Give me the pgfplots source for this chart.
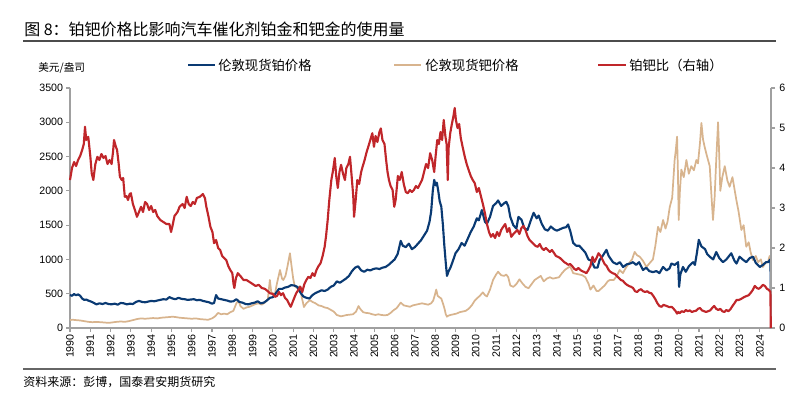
\documentclass[border=0pt]{standalone}
\usepackage{pgfplots}
\usepackage{pgfplotstable}
\pgfplotsset{compat=1.18}
\usepackage{fontspec}
\setmainfont{Liberation Sans}
\newfontfamily\cjk{Noto Sans CJK SC}
\definecolor{ptblue}{RGB}{10,58,115}
\definecolor{pdtan}{RGB}{216,180,142}
\definecolor{ratred}{RGB}{192,38,42}
\definecolor{axgray}{RGB}{160,160,160}

\pgfplotstableread{
x y
1990.00 481
1990.10 470
1990.20 495
1990.30 478
1990.40 490
1990.50 470
1990.60 430
1990.70 410
1990.80 415
1990.90 400
1991.00 390
1991.15 370
1991.30 345
1991.45 360
1991.60 350
1991.75 365
1991.90 350
1992.05 345
1992.20 355
1992.35 340
1992.50 365
1992.65 360
1992.80 345
1992.95 355
1993.10 350
1993.25 380
1993.40 395
1993.55 380
1993.70 375
1993.85 385
1994.00 395
1994.15 390
1994.30 400
1994.45 410
1994.60 420
1994.75 415
1994.90 450
1995.05 430
1995.20 420
1995.35 440
1995.50 425
1995.65 420
1995.80 410
1995.95 415
1996.10 420
1996.25 405
1996.40 410
1996.55 395
1996.70 385
1996.85 375
1997.00 355
1997.10 365
1997.20 480
1997.30 430
1997.45 420
1997.60 410
1997.75 400
1997.90 385
1998.05 390
1998.20 420
1998.35 380
1998.50 370
1998.65 350
1998.80 345
1998.95 360
1999.10 370
1999.25 390
1999.40 360
1999.55 370
1999.70 400
1999.85 440
2000.00 450
2000.15 510
2000.30 570
2000.45 570
2000.60 590
2000.75 600
2000.90 625
2001.05 620
2001.20 600
2001.35 520
2001.50 460
2001.65 440
2001.80 430
2001.95 480
2002.10 510
2002.25 530
2002.40 550
2002.55 540
2002.70 560
2002.85 600
2003.00 620
2003.15 680
2003.30 660
2003.45 690
2003.60 720
2003.75 760
2003.90 830
2004.05 880
2004.20 900
2004.35 840
2004.50 820
2004.65 850
2004.80 840
2004.95 860
2005.10 870
2005.25 860
2005.40 880
2005.55 890
2005.70 920
2005.85 960
2006.00 1000
2006.15 1080
2006.30 1270
2006.40 1200
2006.55 1180
2006.70 1230
2006.85 1150
2007.00 1180
2007.15 1230
2007.30 1280
2007.45 1350
2007.60 1420
2007.72 1550
2007.80 1700
2007.88 2000
2007.95 2160
2008.02 2080
2008.08 2120
2008.15 2000
2008.22 1850
2008.30 1770
2008.38 1500
2008.45 1200
2008.52 950
2008.58 760
2008.65 820
2008.75 880
2008.85 960
2009.00 1090
2009.15 1150
2009.30 1240
2009.45 1200
2009.60 1300
2009.75 1400
2009.90 1480
2010.05 1600
2010.15 1570
2010.30 1720
2010.45 1550
2010.55 1520
2010.70 1620
2010.85 1780
2011.00 1820
2011.10 1860
2011.25 1780
2011.40 1820
2011.50 1840
2011.60 1780
2011.70 1620
2011.85 1500
2012.00 1450
2012.10 1620
2012.25 1580
2012.40 1450
2012.55 1430
2012.70 1560
2012.85 1680
2013.00 1600
2013.10 1640
2013.25 1520
2013.40 1440
2013.55 1420
2013.70 1480
2013.85 1440
2014.00 1420
2014.15 1440
2014.30 1460
2014.45 1470
2014.55 1510
2014.65 1420
2014.80 1240
2014.95 1200
2015.10 1200
2015.25 1150
2015.40 1100
2015.55 1000
2015.70 980
2015.85 880
2016.00 880
2016.10 990
2016.25 1050
2016.44 1140
2016.55 1050
2016.76 960
2016.95 930
2017.10 960
2017.26 890
2017.45 930
2017.60 940
2017.75 960
2017.90 920
2018.05 960
2018.24 846
2018.40 880
2018.55 830
2018.73 815
2018.90 830
2019.05 800
2019.23 890
2019.40 840
2019.55 870
2019.64 940
2019.80 920
2019.97 960
2020.02 600
2020.08 780
2020.21 890
2020.35 820
2020.50 900
2020.71 960
2020.80 920
2020.90 1100
2020.99 1285
2021.12 1190
2021.30 1150
2021.40 1080
2021.53 1040
2021.70 1000
2021.85 1108
2022.00 1020
2022.18 960
2022.35 1000
2022.59 1090
2022.75 980
2022.85 940
2023.00 1040
2023.15 1000
2023.33 960
2023.50 1020
2023.66 1040
2023.80 950
2024.00 890
2024.15 920
2024.30 960
2024.40 960
2024.52 1000
2024.54 560
}\ptdata

\pgfplotstableread{
x y
1990.00 117
1990.15 120
1990.30 115
1990.50 110
1990.70 100
1990.90 90
1991.10 85
1991.30 88
1991.50 85
1991.70 80
1991.90 75
1992.10 82
1992.30 90
1992.50 95
1992.70 90
1992.90 100
1993.10 115
1993.30 130
1993.50 140
1993.70 135
1993.90 140
1994.10 145
1994.30 140
1994.50 150
1994.70 155
1994.90 160
1995.05 165
1995.20 160
1995.40 150
1995.60 145
1995.80 140
1996.00 135
1996.20 140
1996.40 130
1996.60 125
1996.80 120
1997.00 140
1997.15 170
1997.30 220
1997.45 200
1997.60 210
1997.75 200
1997.90 230
1998.05 250
1998.20 360
1998.30 400
1998.40 320
1998.55 280
1998.70 300
1998.85 310
1999.00 330
1999.15 350
1999.30 360
1999.45 340
1999.60 370
1999.75 420
1999.85 700
1999.92 520
2000.05 500
2000.10 496
2000.20 650
2000.35 846
2000.45 720
2000.51 700
2000.62 760
2000.72 900
2000.84 1090
2000.92 900
2001.00 720
2001.08 610
2001.20 580
2001.33 610
2001.42 450
2001.53 306
2001.65 360
2001.82 408
2001.95 380
2002.10 360
2002.25 330
2002.40 320
2002.55 300
2002.70 290
2002.85 265
2003.00 240
2003.15 190
2003.35 170
2003.50 180
2003.65 190
2003.80 195
2003.95 200
2004.10 240
2004.22 320
2004.30 280
2004.45 230
2004.60 220
2004.75 215
2004.90 200
2005.05 190
2005.20 200
2005.35 190
2005.50 185
2005.65 190
2005.80 220
2005.95 260
2006.10 290
2006.30 370
2006.45 330
2006.60 320
2006.75 310
2006.90 330
2007.05 340
2007.20 350
2007.35 360
2007.50 350
2007.65 340
2007.80 360
2007.90 400
2007.98 480
2008.05 560
2008.12 470
2008.20 450
2008.30 430
2008.38 360
2008.46 280
2008.52 200
2008.58 165
2008.65 180
2008.75 190
2008.90 200
2009.05 210
2009.20 230
2009.35 240
2009.50 250
2009.65 280
2009.80 330
2009.95 400
2010.05 430
2010.20 470
2010.35 520
2010.45 480
2010.55 460
2010.70 560
2010.85 700
2011.00 780
2011.10 820
2011.25 770
2011.40 760
2011.50 780
2011.60 740
2011.70 620
2011.85 600
2012.00 640
2012.15 710
2012.30 650
2012.45 600
2012.60 580
2012.75 640
2012.90 700
2013.05 730
2013.20 760
2013.35 680
2013.50 720
2013.65 740
2013.80 720
2013.95 730
2014.10 740
2014.25 800
2014.40 850
2014.55 880
2014.65 900
2014.80 800
2014.95 790
2015.10 780
2015.25 770
2015.40 740
2015.55 650
2015.65 560
2015.80 620
2015.95 540
2016.05 540
2016.20 580
2016.35 620
2016.50 680
2016.60 700
2016.80 700
2016.95 760
2017.09 846
2017.25 800
2017.40 880
2017.59 960
2017.70 1000
2017.83 1110
2017.95 1060
2018.08 1040
2018.24 980
2018.41 890
2018.55 940
2018.73 1000
2018.85 1200
2018.98 1475
2019.10 1400
2019.23 1575
2019.35 1450
2019.45 1550
2019.56 1765
2019.68 1900
2019.80 2450
2019.86 2600
2019.92 2790
2019.96 2300
2020.00 1575
2020.06 2000
2020.13 2310
2020.25 2200
2020.38 2450
2020.50 2250
2020.62 2360
2020.75 2300
2020.87 2450
2020.95 2400
2021.05 2700
2021.12 2990
2021.20 2750
2021.28 2640
2021.40 2500
2021.53 2360
2021.60 2000
2021.69 1575
2021.77 1900
2021.85 2450
2021.94 3000
2022.00 2500
2022.05 2000
2022.15 2200
2022.27 2360
2022.40 2150
2022.51 2060
2022.65 2200
2022.84 1870
2022.95 1700
2023.09 1430
2023.20 1500
2023.33 1185
2023.45 1250
2023.55 1100
2023.66 990
2023.80 1050
2023.91 960
2024.05 1000
2024.15 890
2024.28 950
2024.40 960
2024.48 1050
2024.54 990
}\pddata

\pgfplotstableread{
x y
1990.00 3.70
1990.10 4.00
1990.20 4.15
1990.30 4.05
1990.40 4.20
1990.50 4.30
1990.60 4.45
1990.68 4.60
1990.74 5.03
1990.80 4.70
1990.90 4.78
1991.00 4.30
1991.07 3.87
1991.15 3.70
1991.25 4.10
1991.35 4.28
1991.45 4.20
1991.55 4.35
1991.65 4.25
1991.75 4.30
1991.85 4.10
1991.95 4.20
1992.05 4.10
1992.12 4.40
1992.17 4.70
1992.25 4.55
1992.32 4.45
1992.40 4.10
1992.46 3.78
1992.55 3.70
1992.62 3.75
1992.70 3.28
1992.78 3.30
1992.86 3.20
1992.94 3.35
1993.00 3.37
1993.10 3.10
1993.20 2.95
1993.30 2.78
1993.40 2.90
1993.50 3.03
1993.60 2.90
1993.70 3.15
1993.80 3.10
1993.90 2.95
1994.00 3.05
1994.10 2.90
1994.20 2.95
1994.30 2.80
1994.45 2.70
1994.60 2.65
1994.75 2.60
1994.90 2.60
1994.98 2.40
1995.05 2.55
1995.15 2.80
1995.30 2.90
1995.40 3.03
1995.55 3.10
1995.65 3.00
1995.75 3.28
1995.85 3.10
1995.95 3.05
1996.05 3.15
1996.15 3.10
1996.25 3.25
1996.40 3.28
1996.55 3.35
1996.65 3.25
1996.72 3.03
1996.82 2.80
1996.92 2.53
1997.02 2.40
1997.10 2.12
1997.20 2.20
1997.30 2.00
1997.40 1.95
1997.50 1.80
1997.60 1.75
1997.70 1.70
1997.80 1.55
1997.90 1.45
1998.00 1.37
1998.06 1.10
1998.10 1.00
1998.18 1.25
1998.27 1.37
1998.40 1.30
1998.55 1.20
1998.70 1.20
1998.85 1.15
1999.00 1.10
1999.15 1.05
1999.30 1.08
1999.45 1.00
1999.60 0.98
1999.75 0.92
1999.85 0.87
2000.00 0.85
2000.10 0.78
2000.20 0.80
2000.30 0.90
2000.40 0.82
2000.50 0.87
2000.60 0.75
2000.70 0.70
2000.80 0.60
2000.88 0.53
2000.95 0.62
2001.05 0.75
2001.15 0.87
2001.25 0.95
2001.35 1.03
2001.45 0.90
2001.55 1.10
2001.65 1.20
2001.75 1.28
2001.85 1.25
2001.95 1.37
2002.05 1.30
2002.15 1.45
2002.25 1.55
2002.35 1.62
2002.45 1.80
2002.55 2.03
2002.62 2.30
2002.70 2.70
2002.78 3.20
2002.88 3.70
2002.95 3.90
2003.05 4.25
2003.12 3.80
2003.20 3.50
2003.28 3.90
2003.36 4.08
2003.46 3.85
2003.55 3.70
2003.62 4.00
2003.72 4.10
2003.80 4.28
2003.88 3.80
2003.96 3.30
2004.00 2.78
2004.08 3.20
2004.16 3.70
2004.25 3.60
2004.35 3.90
2004.42 4.03
2004.52 4.20
2004.62 4.40
2004.70 4.53
2004.80 4.70
2004.90 4.87
2004.98 4.53
2005.06 4.80
2005.15 4.65
2005.25 4.90
2005.32 4.99
2005.40 4.70
2005.50 4.60
2005.58 4.20
2005.65 3.90
2005.72 3.70
2005.80 3.55
2005.90 3.45
2005.98 3.03
2006.05 3.20
2006.16 3.80
2006.25 3.70
2006.35 3.90
2006.45 3.60
2006.55 3.40
2006.65 3.37
2006.75 3.45
2006.85 3.40
2006.95 3.45
2007.05 3.55
2007.15 3.50
2007.25 3.60
2007.35 3.70
2007.45 3.90
2007.55 4.10
2007.65 4.00
2007.75 4.37
2007.85 4.20
2007.95 3.90
2008.02 4.30
2008.10 4.70
2008.18 4.60
2008.26 4.90
2008.34 4.70
2008.42 5.20
2008.50 4.80
2008.56 4.60
2008.62 3.70
2008.66 4.50
2008.74 4.87
2008.82 5.10
2008.90 5.30
2008.96 5.50
2009.02 5.20
2009.10 5.00
2009.18 5.10
2009.26 4.75
2009.35 4.53
2009.45 4.30
2009.55 4.10
2009.65 3.95
2009.75 3.80
2009.85 3.70
2009.95 3.62
2010.05 3.40
2010.15 3.50
2010.25 3.30
2010.35 3.10
2010.45 2.87
2010.55 2.60
2010.65 2.40
2010.75 2.28
2010.85 2.35
2010.95 2.25
2011.05 2.40
2011.15 2.30
2011.25 2.45
2011.35 2.53
2011.45 2.60
2011.55 2.40
2011.65 2.50
2011.75 2.28
2011.85 2.35
2011.95 2.40
2012.05 2.45
2012.15 2.35
2012.25 2.50
2012.35 2.55
2012.45 2.45
2012.55 2.30
2012.65 2.20
2012.75 2.15
2012.85 2.10
2012.95 2.05
2013.05 2.03
2013.15 2.10
2013.25 2.00
2013.35 1.95
2013.45 2.00
2013.55 1.95
2013.65 1.90
2013.75 1.95
2013.85 1.88
2013.95 1.80
2014.05 1.78
2014.15 1.75
2014.25 1.70
2014.35 1.65
2014.45 1.62
2014.55 1.58
2014.65 1.60
2014.75 1.55
2014.85 1.48
2014.95 1.45
2015.05 1.50
2015.15 1.45
2015.25 1.42
2015.35 1.40
2015.45 1.37
2015.55 1.45
2015.65 1.55
2015.75 1.78
2015.85 1.65
2015.95 1.75
2016.05 1.87
2016.15 1.80
2016.25 1.70
2016.35 1.60
2016.45 1.55
2016.55 1.45
2016.65 1.40
2016.75 1.37
2016.85 1.35
2016.95 1.30
2017.05 1.25
2017.15 1.20
2017.25 1.18
2017.35 1.12
2017.45 1.08
2017.55 1.05
2017.65 1.03
2017.75 1.00
2017.85 0.92
2017.95 0.90
2018.05 0.95
2018.15 0.97
2018.25 0.92
2018.35 0.90
2018.45 0.92
2018.55 0.88
2018.65 0.87
2018.75 0.80
2018.85 0.72
2018.95 0.62
2019.05 0.55
2019.15 0.53
2019.25 0.58
2019.35 0.56
2019.45 0.54
2019.55 0.52
2019.65 0.53
2019.75 0.48
2019.85 0.42
2019.92 0.36
2019.98 0.40
2020.05 0.37
2020.15 0.42
2020.25 0.40
2020.35 0.45
2020.45 0.42
2020.55 0.44
2020.65 0.40
2020.75 0.42
2020.85 0.43
2020.95 0.48
2021.05 0.50
2021.15 0.44
2021.25 0.42
2021.35 0.40
2021.45 0.42
2021.55 0.44
2021.65 0.50
2021.75 0.55
2021.85 0.48
2021.95 0.45
2022.05 0.48
2022.15 0.42
2022.25 0.40
2022.35 0.45
2022.45 0.42
2022.55 0.47
2022.65 0.55
2022.75 0.62
2022.85 0.70
2022.95 0.70
2023.05 0.72
2023.15 0.75
2023.25 0.78
2023.35 0.80
2023.45 0.82
2023.55 0.88
2023.65 0.95
2023.75 1.05
2023.85 1.00
2023.95 0.98
2024.05 1.02
2024.15 1.08
2024.25 1.05
2024.35 0.98
2024.45 0.95
2024.52 0.90
2024.54 0.00
}\ratiodata

\begin{document}
\begin{tikzpicture}
\begin{scope}[x=0.75pt,y=0.75pt]
\useasboundingbox (0,0) rectangle (791,393);
% title
\node[anchor=west,inner sep=0pt] at (24,364) {\cjk\fontsize{12}{14}\selectfont 图 8：铂钯价格比影响汽车催化剂铂金和钯金的使用量};
\draw[line width=1.2pt,color=black!70] (23,352) -- (776,352);
\draw[line width=0.8pt,color=black!60] (23,24) -- (776,24);
\node[anchor=west,inner sep=0pt] at (23,11) {\cjk\fontsize{9}{11}\selectfont 资料来源：彭博，国泰君安期货研究};
\node[anchor=west,inner sep=0pt] at (38,325) {\cjk\fontsize{8}{10}\selectfont 美元/盎司};
% legend
\draw[ptblue,line width=1.8pt] (188,328) -- (215,328);
\node[anchor=west,inner sep=0pt] at (218,328) {\cjk\fontsize{10}{12}\selectfont 伦敦现货铂价格};
\draw[pdtan,line width=1.8pt] (394,328) -- (421,328);
\node[anchor=west,inner sep=0pt] at (425,328) {\cjk\fontsize{10}{12}\selectfont 伦敦现货钯价格};
\draw[ratred,line width=1.8pt] (598,328) -- (626,328);
\node[anchor=west,inner sep=0pt] at (629,328) {\cjk\fontsize{10}{12}\selectfont 铂钯比（右轴）};
\end{scope}

\begin{axis}[
  at={(52.5pt,48.75pt)}, anchor=south west,
  width=525.75pt, height=180pt, scale only axis,
  xmin=1990, xmax=2024.55, ymin=0, ymax=3500,
  axis x line*=bottom, axis y line*=left,
  axis line style={color=axgray,line width=0.8pt},
  every tick/.style={color=axgray,line width=0.8pt},
  tick align=outside, major tick length=3pt,
  xtick={1990,1991,...,2024},
  ytick={0,500,...,3500},
  xticklabel style={rotate=90,anchor=east,font=\fontsize{8}{9}\selectfont,/pgf/number format/1000 sep=,inner sep=1.5pt},
  yticklabel style={font=\fontsize{8}{9}\selectfont,/pgf/number format/1000 sep=,inner sep=2pt},
  /pgf/number format/assume math mode=true,
  clip=false,
]
\addplot[pdtan,line width=1.3pt,line join=round] table[x=x,y=y] {\pddata};
\addplot[ptblue,line width=1.6pt,line join=round] table[x=x,y=y] {\ptdata};
\end{axis}
\begin{axis}[
  at={(52.5pt,48.75pt)}, anchor=south west,
  width=525.75pt, height=180pt, scale only axis,
  xmin=1990, xmax=2024.55, ymin=0, ymax=6,
  hide x axis,
  axis y line*=right,
  axis line style={color=axgray,line width=0.8pt},
  every tick/.style={color=axgray,line width=0.8pt},
  tick align=outside, major tick length=3pt,
  ytick={0,1,...,6},
  yticklabel style={font=\fontsize{8}{9}\selectfont,inner sep=3pt},
  /pgf/number format/assume math mode=true,
  clip=false,
]
\addplot[ratred,line width=1.6pt,line join=round] table[x=x,y=y] {\ratiodata};
\end{axis}
\end{tikzpicture}
\end{document}
